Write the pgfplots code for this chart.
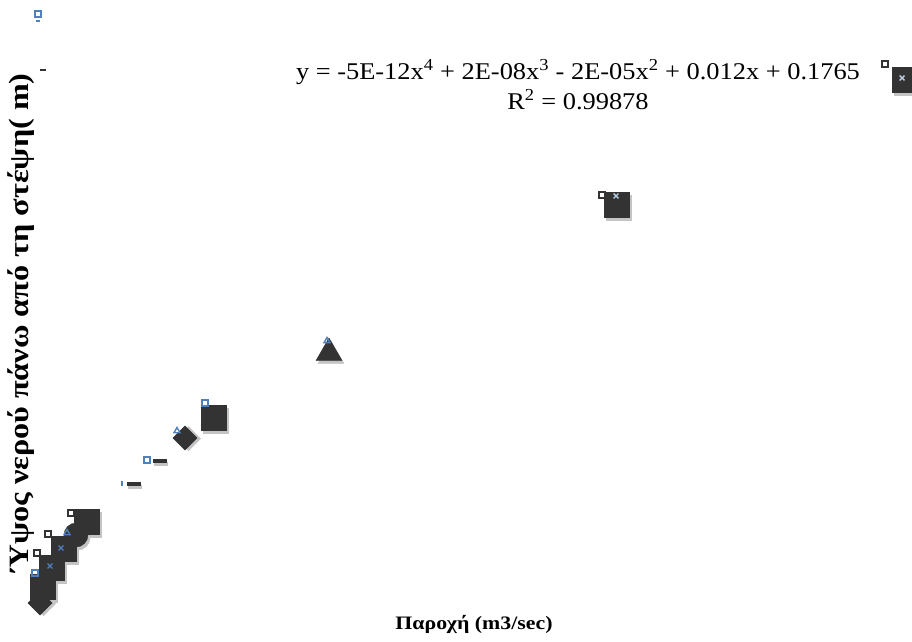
\documentclass[border=0pt]{standalone}
\usepackage{pgfplots}
\pgfplotsset{compat=1.18}
\usepackage{fontspec}
\setmainfont{Liberation Serif}
\newfontfamily\eqfont{Liberation Serif}[FakeStretch=1.1]
\newfontfamily\lblfont{Liberation Serif}[FakeStretch=1.15]
\definecolor{mk}{HTML}{333333}
\definecolor{bl}{HTML}{4F81BD}
\definecolor{sh}{HTML}{C4C4C4}
\begin{document}
\begin{tikzpicture}
\begin{axis}[
  width=912pt, height=641pt, scale only axis,
  xmin=0, xmax=912, ymin=0, ymax=641,
  axis lines=none, ticks=none,
  clip mode=individual, clip marker paths=true,
]
\path (rel axis cs:0,0) rectangle (rel axis cs:1,1);
% shadows
\addplot[only marks, mark=square*, mark size=12.5pt, color=sh, mark options={xshift=2pt,yshift=-3pt}] coordinates {(43,54)(52,73)(64,92)(86.5,119)(214,223)(617,436)(905,561)};
\addplot[only marks, mark=square*, mark size=8.5pt, color=sh, mark options={rotate=45,xshift=2pt,yshift=-3pt}] coordinates {(40,38)(185,203)};
\addplot[only marks, mark=*, mark size=12pt, color=sh, mark options={xshift=2pt,yshift=-3pt}] coordinates {(76,106)};
\addplot[only marks, mark=triangle*, mark size=15pt, color=sh, mark options={xshift=2pt,yshift=-3pt}] coordinates {(329,288)};
\addplot[only marks, mark=-, mark size=7pt, color=sh, mark options={line width=4.5pt,xshift=1pt,yshift=-3pt}] coordinates {(134,157)(160,180)};
% markers
\addplot[only marks, mark=square*, mark size=8.5pt, color=mk, mark options={rotate=45}] coordinates {(40,38)(185,203)};
\addplot[only marks, mark=square*, mark size=12.5pt, color=mk] coordinates {(43,54)(52,73)(64,92)};
\addplot[only marks, mark=*, mark size=12pt, color=mk] coordinates {(76,106)};
\addplot[only marks, mark=square*, mark size=12.5pt, color=mk] coordinates {(86.5,119)(214,223)(617,436)(905,561)};
\addplot[only marks, mark=triangle*, mark size=15pt, color=mk] coordinates {(329,288)};
\addplot[only marks, mark=-, mark size=7pt, color=mk, mark options={line width=4.5pt}] coordinates {(134,157)(160,180)};
\addplot[only marks, mark=-, mark size=3pt, color=mk, mark options={line width=1.2pt}] coordinates {(43,571)};
% small markers
\addplot[only marks, mark=square, mark size=3.2pt, color=mk, mark options={line width=1.6pt}] coordinates {(71,128)(48,107)(37,88)(602,446)(885,577)};
\addplot[only marks, mark=square, mark size=3.2pt, color=bl, mark options={line width=1.6pt}] coordinates {(35,68)(147,181)(205,238)(38,627)};
\addplot[only marks, mark=-, mark size=2pt, color=bl, mark options={line width=1.2pt}] coordinates {(38,620)};
\addplot[only marks, mark=|, mark size=2.5pt, color=bl, mark options={line width=1.4pt}] coordinates {(122,158)};
\addplot[only marks, mark=triangle, mark size=3.5pt, color=bl, mark options={line width=1.4pt}] coordinates {(67,108)(177,210)(327,300)};
\addplot[only marks, mark=x, mark size=3.5pt, color=bl, mark options={line width=1.4pt}] coordinates {(50,75)(61,93)};
\addplot[only marks, mark=x, mark size=3.5pt, color=bl!40, mark options={line width=1.4pt}] coordinates {(616,445)(902,563)};
\node[align=center, font=\eqfont\fontsize{24}{30}\selectfont] at (axis cs:578,556)
  {y = -5E-12x\textsuperscript{4} + 2E-08x\textsuperscript{3} - 2E-05x\textsuperscript{2} + 0.012x + 0.1765\\R\textsuperscript{2} = 0.99878};
\node[font=\lblfont\fontsize{19}{22}\selectfont\bfseries] at (axis cs:474,17) {Παροχή (m3/sec)};
\node[rotate=90, font=\lblfont\fontsize{28}{32}\selectfont\bfseries] at (axis cs:21,318) {Ύψος νερού πάνω από τη στέψη( m)};
\end{axis}
\end{tikzpicture}
\end{document}
